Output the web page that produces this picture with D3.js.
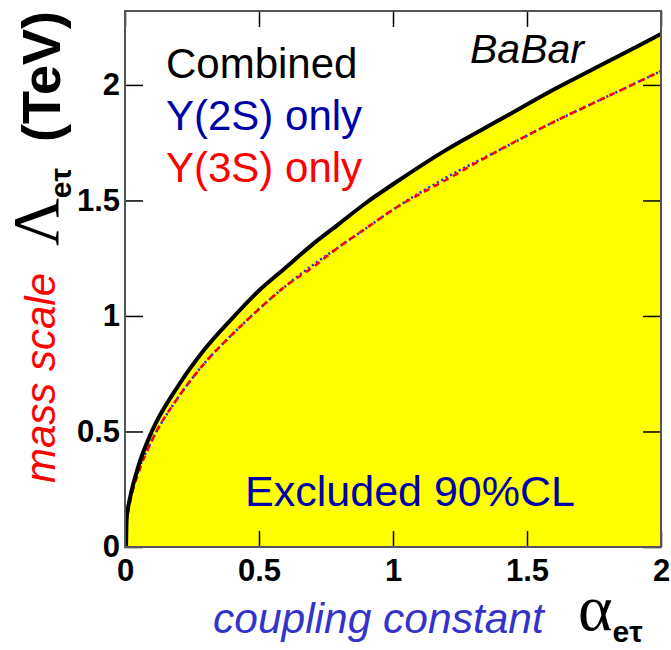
<!DOCTYPE html>
<html>
<head>
<meta charset="utf-8">
<script src="https://cdn.jsdelivr.net/npm/d3@7"></script>
<style>
  body { margin: 0; background: #fff; }
  svg { display: block; }
</style>
</head>
<body>
<svg></svg>
<script>
// Values
const alpha = [0.004, 0.006, 0.01, 0.02, 0.05, 0.1, 0.2, 0.3, 0.4, 0.5, 0.6, 0.7, 0.8, 0.9, 1.0, 1.2, 1.4, 1.6, 1.8, 2.0];
const lambdaComb = [0.0, 0.12, 0.16, 0.22, 0.35, 0.50, 0.70, 0.86, 0.99, 1.11, 1.21, 1.31, 1.40, 1.49, 1.57, 1.72, 1.85, 1.98, 2.10, 2.22];
const lambda2S = [0.0, 0.11, 0.15, 0.21, 0.33, 0.46, 0.65, 0.80, 0.92, 1.03, 1.13, 1.22, 1.30, 1.38, 1.46, 1.60, 1.72, 1.84, 1.95, 2.06];
const lambda3S = [0.0, 0.10, 0.14, 0.20, 0.32, 0.46, 0.65, 0.80, 0.92, 1.03, 1.13, 1.21, 1.30, 1.38, 1.46, 1.59, 1.72, 1.84, 1.95, 2.06];
const xTicks = [0, 0.5, 1, 1.5, 2];
const yTicks = [0, 0.5, 1, 1.5, 2];
const legendLabels = ["Combined", "Y(2S) only", "Y(3S) only"];

// Dimensions
const svgWidth = 671;
const svgHeight = 650;
const margin = { top: 11, right: 10, bottom: 103, left: 125 };
const w = svgWidth - margin.left - margin.right;
const h = svgHeight - margin.top - margin.bottom;

const svg = d3.select("svg")
    .attr("width", svgWidth)
    .attr("height", svgHeight);

const g = svg.append("g")
    .attr("transform", `translate(${margin.left}, ${margin.top})`);

// Scales
const xScale = d3.scaleLinear().domain([0, 2]).range([0, w]);
const yScale = d3.scaleLinear().domain([0, 2.32]).range([h, 0]);

const pts = (ys) => alpha.map((a, i) => [a, ys[i]]);

g.append("clipPath").attr("id", "plotclip")
    .append("rect").attr("width", w).attr("height", h);

const plot = g.append("g").attr("clip-path", "url(#plotclip)");

// Excluded region
const area = d3.area()
    .x(d => xScale(d[0]))
    .y0(h)
    .y1(d => yScale(d[1]))
    .curve(d3.curveMonotoneX);

plot.append("path")
    .datum(pts(lambdaComb))
    .attr("d", area)
    .attr("fill", "#ffff00");

const line = d3.line()
    .x(d => xScale(d[0]))
    .y(d => yScale(d[1]))
    .curve(d3.curveMonotoneX);

plot.append("path")
    .datum(pts(lambda2S))
    .attr("d", line)
    .attr("fill", "none")
    .attr("stroke", "#2020ff")
    .attr("stroke-width", 2.5)
    .attr("stroke-dasharray", "2,3");

plot.append("path")
    .datum(pts(lambda3S))
    .attr("d", line)
    .attr("fill", "none")
    .attr("stroke", "#ff0000")
    .attr("stroke-width", 2.5)
    .attr("stroke-dasharray", "6,5");

plot.append("path")
    .datum(pts(lambdaComb))
    .attr("d", line)
    .attr("fill", "none")
    .attr("stroke", "#000")
    .attr("stroke-width", 4);

// Axes (ticks inside, ROOT style)
function styleAxis(sel) {
    sel.select(".domain").remove();
    sel.selectAll(".tick line").attr("stroke", "#000").attr("stroke-width", 1.5);
    sel.selectAll("text")
        .attr("font-family", "Liberation Sans, Arial, sans-serif")
        .attr("font-weight", "bold")
        .attr("font-size", 31)
        .attr("fill", "#000");
}

g.append("g")
    .attr("transform", `translate(0, ${h})`)
    .call(d3.axisBottom(xScale).tickValues(xTicks).tickSize(-16).tickPadding(12)
        .tickFormat(d3.format("")))
    .call(styleAxis);

g.append("g")
    .call(d3.axisTop(xScale).tickValues(xTicks).tickSize(-16).tickFormat(""))
    .call(styleAxis);

g.append("g")
    .call(d3.axisLeft(yScale).tickValues(yTicks).tickSize(-18).tickPadding(5)
        .tickFormat(d3.format("")))
    .call(styleAxis);

g.append("g")
    .attr("transform", `translate(${w}, 0)`)
    .call(d3.axisRight(yScale).tickValues(yTicks).tickSize(-18).tickFormat(""))
    .call(styleAxis);

// Frame
g.append("rect")
    .attr("width", w)
    .attr("height", h)
    .attr("fill", "none")
    .attr("stroke", "#555")
    .attr("stroke-width", 2);

// Texts
const sans = "Liberation Sans, Arial, sans-serif";
const serif = "Liberation Serif, Times New Roman, serif";
const legendColors = ["#000", "#0000aa", "#ff0000"];

svg.selectAll(".legend")
    .data(legendLabels)
    .enter()
    .append("text")
    .attr("class", "legend")
    .attr("x", 166)
    .attr("y", (d, i) => 78 + i * 52)
    .attr("font-family", sans)
    .attr("font-size", 42)
    .attr("fill", (d, i) => legendColors[i])
    .text(d => d);

svg.append("text")
    .attr("x", 470)
    .attr("y", 63)
    .attr("font-family", sans)
    .attr("font-style", "italic")
    .attr("font-size", 41)
    .text("BaBar");

svg.append("text")
    .attr("x", 410)
    .attr("y", 506)
    .attr("text-anchor", "middle")
    .attr("font-family", sans)
    .attr("font-size", 43)
    .attr("fill", "#0000aa")
    .text("Excluded 90%CL");

// x title
svg.append("text")
    .attr("x", 213)
    .attr("y", 633)
    .attr("font-family", sans)
    .attr("font-style", "italic")
    .attr("font-size", 42.5)
    .attr("fill", "#3333cc")
    .text("coupling constant");

const xSym = svg.append("text")
    .attr("x", 578)
    .attr("y", 630);
xSym.append("tspan")
    .attr("font-family", serif)
    .attr("font-size", 66)
    .text("α");
xSym.append("tspan")
    .attr("font-family", sans)
    .attr("font-weight", "bold")
    .attr("font-size", 30)
    .attr("dy", 12)
    .text("eτ");

// y title
svg.append("text")
    .attr("transform", "translate(55, 378) rotate(-90)")
    .attr("text-anchor", "middle")
    .attr("font-family", sans)
    .attr("font-style", "italic")
    .attr("font-size", 42)
    .attr("fill", "#ff0000")
    .text("mass scale");

const ySym = svg.append("text")
    .attr("transform", "translate(58, 246) rotate(-90)");
ySym.append("tspan")
    .attr("font-family", serif)
    .attr("font-size", 66)
    .text("Λ");
ySym.append("tspan")
    .attr("font-family", sans)
    .attr("font-weight", "bold")
    .attr("font-size", 30)
    .attr("dy", 13)
    .text("eτ");

svg.append("text")
    .attr("transform", "translate(60, 11) rotate(-90)")
    .attr("text-anchor", "end")
    .attr("font-family", sans)
    .attr("font-weight", "bold")
    .attr("font-size", 54)
    .text("(TeV)");
</script>
</body>
</html>
